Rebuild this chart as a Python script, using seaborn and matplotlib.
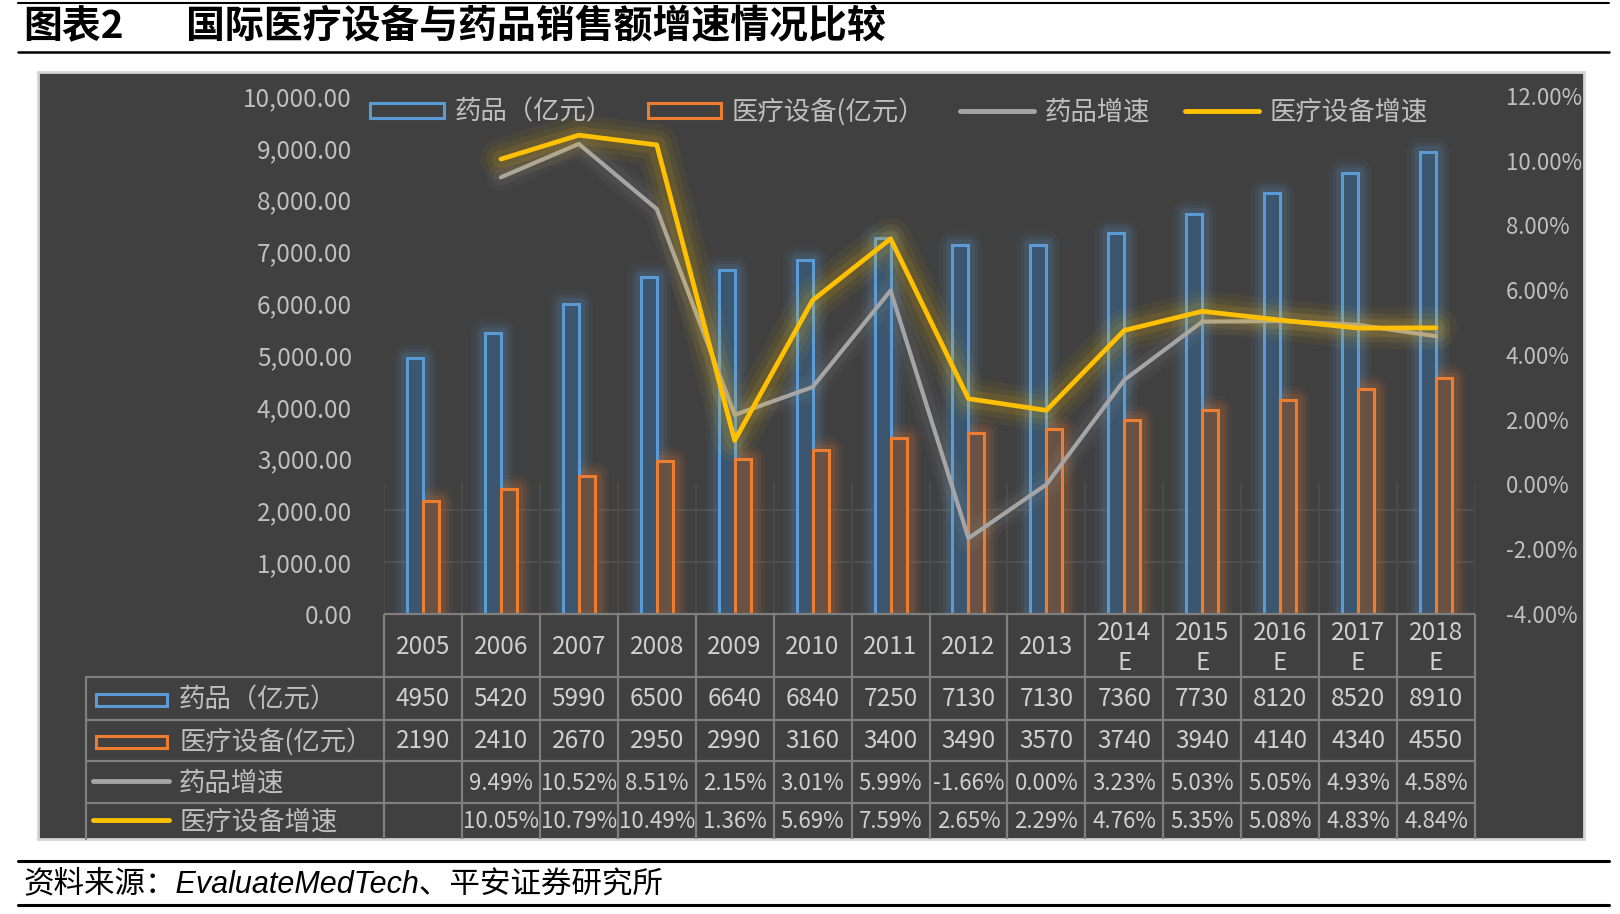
import matplotlib
matplotlib.use("Agg")
import matplotlib.pyplot as plt
from matplotlib.patches import Rectangle, Patch
from matplotlib.lines import Line2D
import matplotlib.ticker as mticker
import seaborn as sns
import pandas as pd
import numpy as np

# data
years = ['2005', '2006', '2007', '2008', '2009', '2010', '2011', '2012', '2013',
         '2014E', '2015E', '2016E', '2017E', '2018E']
year_labels = [y[:4] + '\nE' if y.endswith('E') else y for y in years]
drug_sales = [4950, 5420, 5990, 6500, 6640, 6840, 7250, 7130, 7130, 7360, 7730, 8120, 8520, 8910]
device_sales = [2190, 2410, 2670, 2950, 2990, 3160, 3400, 3490, 3570, 3740, 3940, 4140, 4340, 4550]
drug_growth = [np.nan, 9.49, 10.52, 8.51, 2.15, 3.01, 5.99, -1.66, 0.00, 3.23, 5.03, 5.05, 4.93, 4.58]
device_growth = [np.nan, 10.05, 10.79, 10.49, 1.36, 5.69, 7.59, 2.65, 2.29, 4.76, 5.35, 5.08, 4.83, 4.84]
series_names = ['药品（亿元）', '医疗设备(亿元）', '药品增速', '医疗设备增速']

BLUE, ORANGE, GRAY, YELLOW = '#5B9BD5', '#ED7D31', '#A5A5A5', '#FFC000'
BLUE_FILL, ORANGE_FILL = '#3B566E', '#695243'
PANEL = '#404040'
TXT = '#BFBFBF'
TBL_TXT = '#CFCFCF'
GRID = '#7F7F7F'

sns.set_style('white')
plt.rcParams['font.family'] = ['Noto Sans CJK SC', 'DejaVu Sans']
plt.rcParams['axes.unicode_minus'] = False

W, H = 1620, 914
fig = plt.figure(figsize=(W / 100, H / 100), dpi=100)

# layout in pixels
AX_L, AX_R, AX_T, AX_B = 384, 1475, 96, 614
n = len(years)
col_w = (AX_R - AX_L) / n
row_lines = [677, 720, 761, 803, 839]
LBL_L = 86

# background, title and footer
bg = fig.add_axes([0, 0, 1, 1])
bg.set_xlim(0, W)
bg.set_ylim(H, 0)
bg.axis('off')
bg.add_patch(Rectangle((38, 72), 1546, 767, fc=PANEL, ec='#D4D4D4', lw=2))
bg.plot([18, 1609], [3, 3], color='black', lw=1.5)
bg.plot([18, 1609], [52, 52], color='black', lw=1.8)
bg.plot([18, 1609], [861, 861], color='black', lw=2.2)
bg.plot([18, 1609], [905, 905], color='black', lw=2.2)
bg.text(23, 27, '图表2', fontsize=28, fontweight='bold', va='center', ha='left', color='black')
bg.text(186, 27, '国际医疗设备与药品销售额增速情况比较', fontsize=28, fontweight='bold',
        va='center', ha='left', color='black')
bg.text(23, 884, '资料来源：EvaluateMedTech、平安证券研究所', fontsize=22, style='italic',
        family=['Liberation Sans Narrow', 'Liberation Sans', 'Noto Sans CJK SC'],
        va='center', ha='left', color='black')

# main chart
ax = fig.add_axes([AX_L / W, 1 - AX_B / H, (AX_R - AX_L) / W, (AX_B - AX_T) / H])
ax.set_facecolor('none')

df_bars = pd.DataFrame({
    'pos': np.tile(np.arange(n), 2),
    'value': drug_sales + device_sales,
    'series': [series_names[0]] * n + [series_names[1]] * n,
})
sns.barplot(data=df_bars, x='pos', y='value', hue='series', hue_order=series_names[:2],
            palette=[BLUE, ORANGE], native_scale=True, width=0.41, gap=0,
            saturation=1, errorbar=None, legend=False, ax=ax)

for cont, ec, fc in zip(ax.containers, [BLUE, ORANGE], [BLUE_FILL, ORANGE_FILL]):
    for bar in cont:
        bar.set_facecolor(fc)
        bar.set_edgecolor(ec)
        bar.set_linewidth(2.2)
        bar.set_zorder(3)
        x0, y0 = bar.get_xy()
        for glw, ga in [(20, 0.06), (14, 0.09), (9, 0.12)]:
            ax.add_patch(Rectangle((x0, y0), bar.get_width(), bar.get_height(), fc='none',
                                   ec=ec, lw=glw, alpha=ga, zorder=2, joinstyle='round'))

# faint grid in the lower part
ax.hlines([1000, 2000], -0.5, n - 0.5, color='#4E4E4E', lw=1.5, zorder=1)
ax.vlines(np.arange(n + 1) - 0.5, 0, 2550, color='#4A4A4A', lw=1.5, zorder=1)

ax.set_xlim(-0.5, n - 0.5)
ax.set_ylim(0, 10000)
ax.set_yticks(np.arange(0, 10001, 1000))
ax.yaxis.set_major_formatter(mticker.StrMethodFormatter('{x:,.2f}'))
ax.tick_params(axis='y', length=0, pad=23, labelsize=17.5, labelcolor=TXT)
ax.tick_params(axis='x', length=0, labelbottom=False)
ax.set_xlabel('')
ax.set_ylabel('')
for s in ax.spines.values():
    s.set_visible(False)

ax2 = ax.twinx()
df_lines = pd.DataFrame({'pos': np.arange(n), 'drug': drug_growth, 'device': device_growth})
for col, color, lw, glows in [('drug', GRAY, 3.0, [(20, 0.05), (12, 0.08)]),
                              ('device', YELLOW, 3.4, [(30, 0.05), (21, 0.07), (13, 0.10)])]:
    for gw, ga in glows:
        sns.lineplot(data=df_lines, x='pos', y=col, color=color, lw=gw, alpha=ga,
                     solid_capstyle='round', solid_joinstyle='round', ax=ax2)
    sns.lineplot(data=df_lines, x='pos', y=col, color=color, lw=lw, ax=ax2)

ax2.set_xlim(-0.5, n - 0.5)
ax2.set_ylim(-4, 12)
ax2.set_yticks(np.arange(-4, 12.01, 2))
ax2.yaxis.set_major_formatter(mticker.StrMethodFormatter('{x:.2f}%'))
ax2.tick_params(axis='y', length=0, pad=22, labelsize=16, labelcolor=TXT)
ax2.set_xlabel('')
ax2.set_ylabel('')
for s in ax2.spines.values():
    s.set_visible(False)

handles = [Patch(fc='none', ec=BLUE, lw=2.2), Patch(fc='none', ec=ORANGE, lw=2.2),
           Line2D([], [], color=GRAY, lw=3.5), Line2D([], [], color=YELLOW, lw=3.5)]
ax2.legend(handles, series_names, loc='center left', bbox_to_anchor=(370 / W, 1 - 112 / H),
           bbox_transform=fig.transFigure, ncol=4, frameon=False, fontsize=19,
           handlelength=2.8, handleheight=0.5, handletextpad=0.4, columnspacing=1.32,
           borderpad=0, borderaxespad=0, labelcolor=TXT)

# data table under the chart
tb = fig.add_axes([0, 0, 1, 1], zorder=5)
tb.set_xlim(0, W)
tb.set_ylim(H, 0)
tb.axis('off')
tb.set_facecolor('none')

LW = 1.6
tb.plot([AX_L, AX_R], [AX_B, AX_B], color=GRID, lw=LW, solid_capstyle='butt')
for yl in row_lines[:-1]:
    tb.plot([LBL_L, AX_R], [yl, yl], color=GRID, lw=LW, solid_capstyle='butt')
for k in range(n + 1):
    xk = AX_L + k * col_w
    tb.plot([xk, xk], [AX_B, row_lines[-1]], color=GRID, lw=LW, solid_capstyle='butt')
tb.plot([LBL_L, LBL_L], [row_lines[0], row_lines[-1]], color=GRID, lw=LW)

centers = [AX_L + (i + 0.5) * col_w for i in range(n)]
for cx, lab in zip(centers, year_labels):
    tb.text(cx, (AX_B + row_lines[0]) / 2 + 2, lab, ha='center', va='center',
            fontsize=17.5, color=TBL_TXT, linespacing=1.2)

rows = [[str(v) for v in drug_sales],
        [str(v) for v in device_sales],
        ['' if np.isnan(v) else f'{v:.2f}%' for v in drug_growth],
        ['' if np.isnan(v) else f'{v:.2f}%' for v in device_growth]]
for r, (vals, top, bot) in enumerate(zip(rows, row_lines[:-1], row_lines[1:])):
    cy = (top + bot) / 2 + 1
    fs = 17.5 if r < 2 else 16
    for cx, v in zip(centers, vals):
        tb.text(cx, cy, v, ha='center', va='center', fontsize=fs, color=TBL_TXT)
    # legend key + label in the first column
    if r < 2:
        tb.add_patch(Rectangle((96, cy - 6), 71, 12, fc='none', ec=[BLUE, ORANGE][r], lw=2.2))
    else:
        tb.plot([93, 169], [cy - 2, cy - 2], color=[GRAY, YELLOW][r - 2], lw=3.5,
                solid_capstyle='round')
    tb.text(179, cy, series_names[r], ha='left', va='center', fontsize=19, color=TXT)

fig.savefig('out.png', dpi=100, facecolor='white')
